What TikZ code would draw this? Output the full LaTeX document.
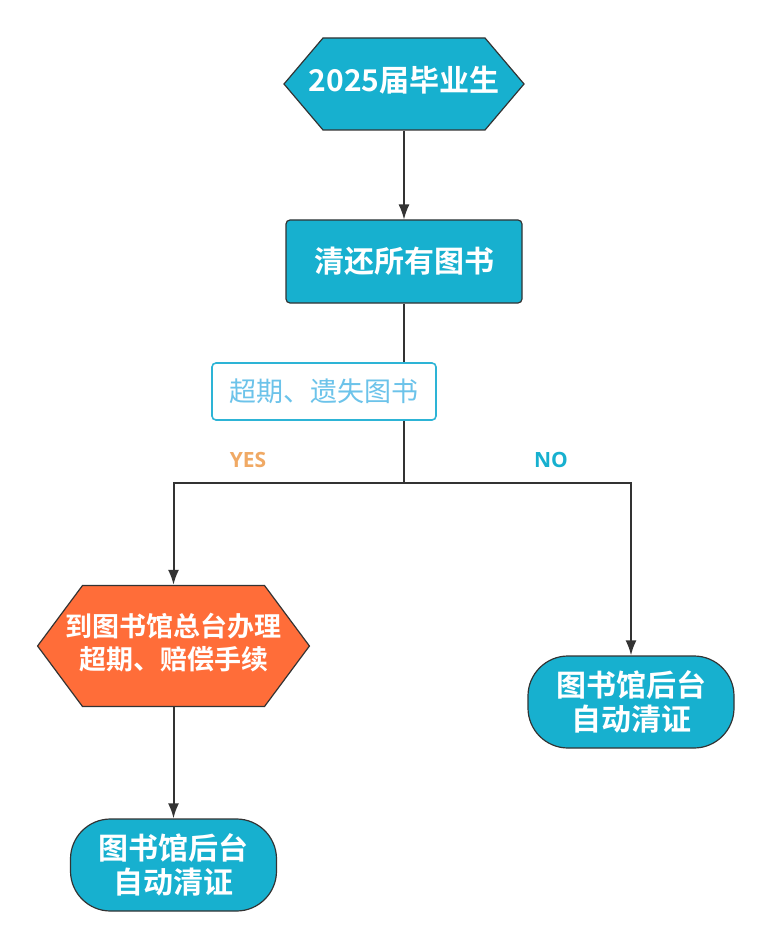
\documentclass[tikz,border=0pt]{standalone}
\usepackage{fontspec}
\setmainfont{Open Sans}
\newfontfamily\cjk{Noto Sans CJK SC}
\newfontfamily\cjkbold{Noto Sans CJK SC Bold}
\usetikzlibrary{positioning, arrows.meta, shapes.symbols}
\definecolor{flowblue}{HTML}{17B0CF}
\definecolor{floworange}{HTML}{FF6D39}
\definecolor{flowline}{HTML}{333333}
\definecolor{yesorange}{HTML}{F0A964}
\definecolor{checkblue}{HTML}{2DB4D6}
\definecolor{checktext}{HTML}{6CC3EA}
\newcommand{\flowarrow}{-{Latex[length=15pt,width=11pt]}}
\newcommand{\bigcjk}{\cjkbold\fontsize{30}{34}\selectfont}
\newcommand{\hextext}[1]{\makebox[0pt][c]{\begin{tabular}{@{}c@{}}#1\end{tabular}}}

\begin{document}
\begin{tikzpicture}[x=1pt, y=-1pt,
    hexbox/.style={signal, signal to=east and west, draw=flowline, line width=1.2pt,
        text=white, font=\bigcjk, inner ysep=0pt},
    procbox/.style={rectangle, rounded corners=4pt, fill=flowblue, draw=flowline,
        line width=1.2pt, text=white, font=\bigcjk, align=center, inner sep=0pt},
    endbox/.style={procbox, rounded corners=40pt, minimum width=206pt, minimum height=92pt},
    checkbox/.style={rectangle, rounded corners=4pt, fill=white, draw=checkblue,
        line width=1.6pt, text=checktext, font=\cjk\fontsize{27}{30}\selectfont,
        minimum width=224pt, minimum height=57pt, inner sep=0pt},
    answer/.style={font=\bfseries\fontsize{21}{24}\selectfont}]
    \useasboundingbox (0,0) rectangle (771,949);
    \node[hexbox, fill=flowblue, inner xsep=81pt, minimum height=92pt,
        signal pointer angle=99.4] (start) at (404,84) {\hextext{2025届毕业生}};
    \node[procbox, minimum width=236pt, minimum height=83pt] (return) at (404,261.5) {清还所有图书};
    \node[checkbox] (check) at (324,391.5) {超期、遗失图书};
    \coordinate (split) at (404,483);
    \node[hexbox, fill=floworange, font=\cjkbold\fontsize{27}{33}\selectfont,
        inner xsep=91pt, minimum height=121pt, signal pointer angle=106.8]
        (desk) at (173.5,646) {\hextext{到图书馆总台办理\\超期、赔偿手续}};
    \node[endbox] (yesend) at (173.5,865) {图书馆后台\\自动清证};
    \node[endbox] (noend) at (631,702) {图书馆后台\\自动清证};
    \node[answer, text=yesorange] (yes) at (248,460) {YES};
    \node[answer, text=flowblue] (no) at (551,460) {NO};
    % connectors
    \draw[\flowarrow, flowline, line width=1.3pt] (start) -- (return);
    \draw[flowline, line width=2pt] (return.south) -- (return.south |- check.north);
    \draw[\flowarrow, flowline, line width=2pt] (return.south |- check.south) -- (split) -| (desk);
    \draw[\flowarrow, flowline, line width=2pt] (split) -| (noend);
    \draw[\flowarrow, flowline, line width=2pt] (desk) -- (yesend);
\end{tikzpicture}
\end{document}
